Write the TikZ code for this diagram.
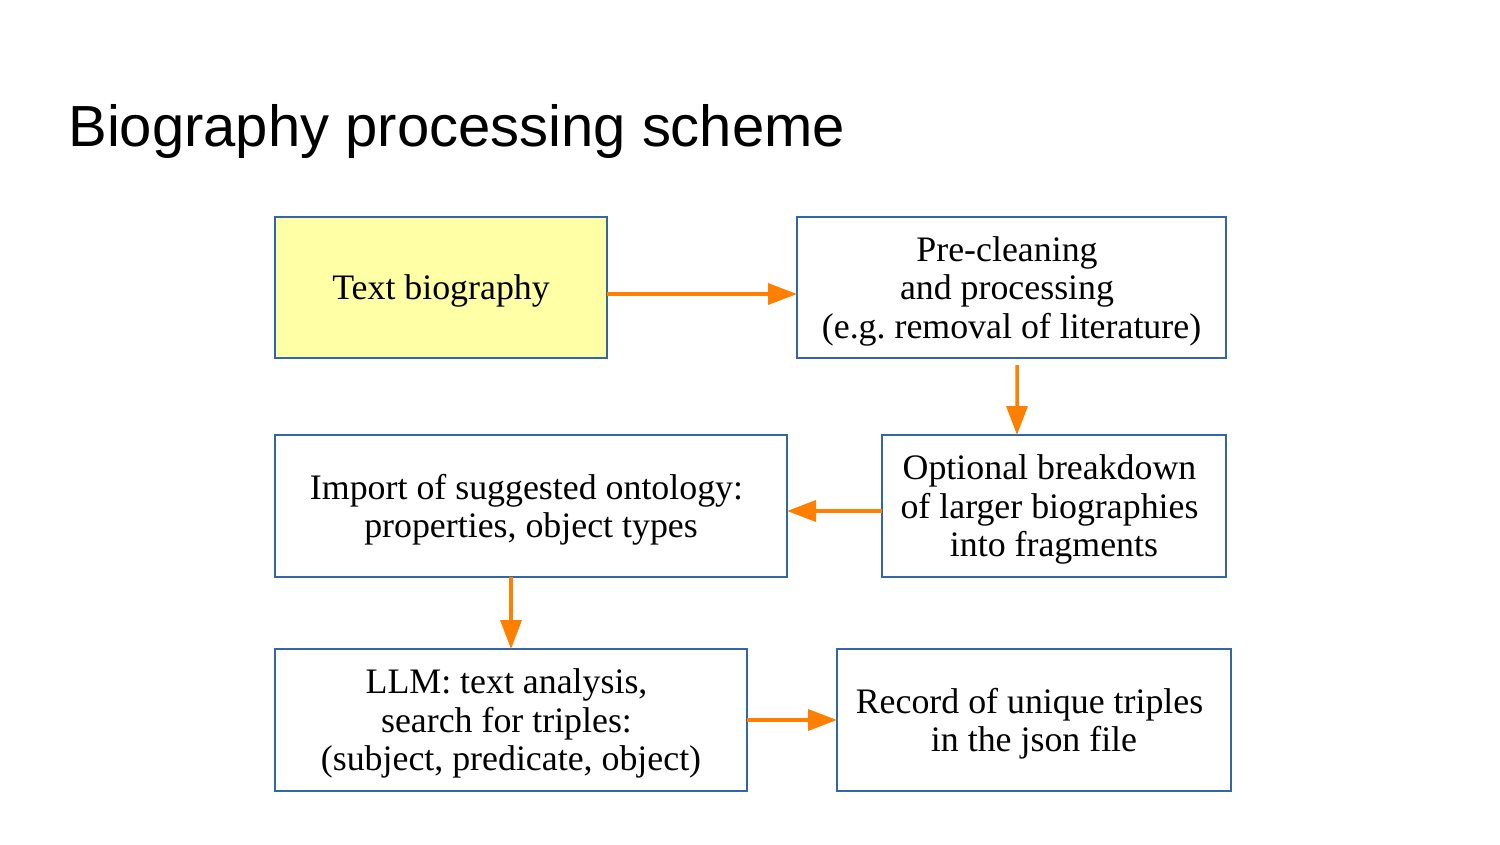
\documentclass[tikz,border=0pt]{standalone}
\usepackage{fontspec}
\setmainfont{Liberation Serif}
\newfontfamily\titlefont{Liberation Sans}
\usepackage{tikz}
\usetikzlibrary{arrows.meta, positioning}
\definecolor{boxblue}{HTML}{3465A4}
\definecolor{startyellow}{HTML}{FFFFA6}
\definecolor{arroworange}{HTML}{FF8000}
% wrapped lines keep their trailing space
\newcommand{\wrapline}{\kern0.25em\\}
\tikzset{
	every node/.style={
		font=\fontsize{20.4pt}{21.9pt}\selectfont
	},
	box/.style={
		shape=rectangle,
		minimum height=2.84cm,
		align=center,
		text depth=0pt,
		inner sep=0pt,
		outer sep=0pt,
		draw=boxblue,
		line width=1pt,
	},
	start/.style={
		box,
		minimum height=2.82cm,
		fill=startyellow,
	},
	title/.style={
		font=\titlefont\fontsize{33pt}{38pt}\selectfont,
		anchor=base west,
		inner sep=0pt,
	},
	myarrow/.style={->, color=arroworange, line width=2pt},
}

\begin{document}
\begin{tikzpicture}[>={Triangle[length=0.58cm,width=0.42cm]},node distance=1.5cm]
	\useasboundingbox (0,0) rectangle (30,-16.88);

	\node[title] (title) at (1.36,-2.92) {Biography processing scheme};

	\node[start, minimum width=6.64cm, anchor=north west] (text) at (5.5,-4.34) {Text biography};
	\node[box, minimum width=8.58cm, minimum height=2.82cm] (clean) [right=3.8cm of text] {Pre-cleaning\wrapline and processing\wrapline (e.g.\ removal of literature)};
	\node[box, minimum width=6.88cm] (split) [below left=1.54cm and 0cm of clean.south east] {Optional breakdown\wrapline of larger biographies\wrapline into fragments};
	\node[box, minimum width=10.24cm] (import) [left=1.9cm of split] {Import of suggested ontology:\wrapline properties, object types};
	\node[box, minimum width=9.44cm] (llm) [below right=1.44cm and 0cm of import.south west] {LLM: text analysis,\wrapline search for triples:\wrapline (subject, predicate, object)};
	\node[box, minimum width=7.88cm] (record) [right=1.8cm of llm] {Record of unique triples\wrapline in the json file};

	\path[myarrow] ([yshift=-0.13cm]text.east) edge ([yshift=-0.13cm]clean.west)
	([xshift=0.11cm,yshift=-0.14cm]clean.south) edge ([xshift=-0.74cm]split.north)
	([yshift=-0.1cm]split.west) edge ([yshift=-0.1cm]import.east)
	(import.south -| llm.north) edge (llm.north)
	(llm.east) edge (record.west);
\end{tikzpicture}
\end{document}
